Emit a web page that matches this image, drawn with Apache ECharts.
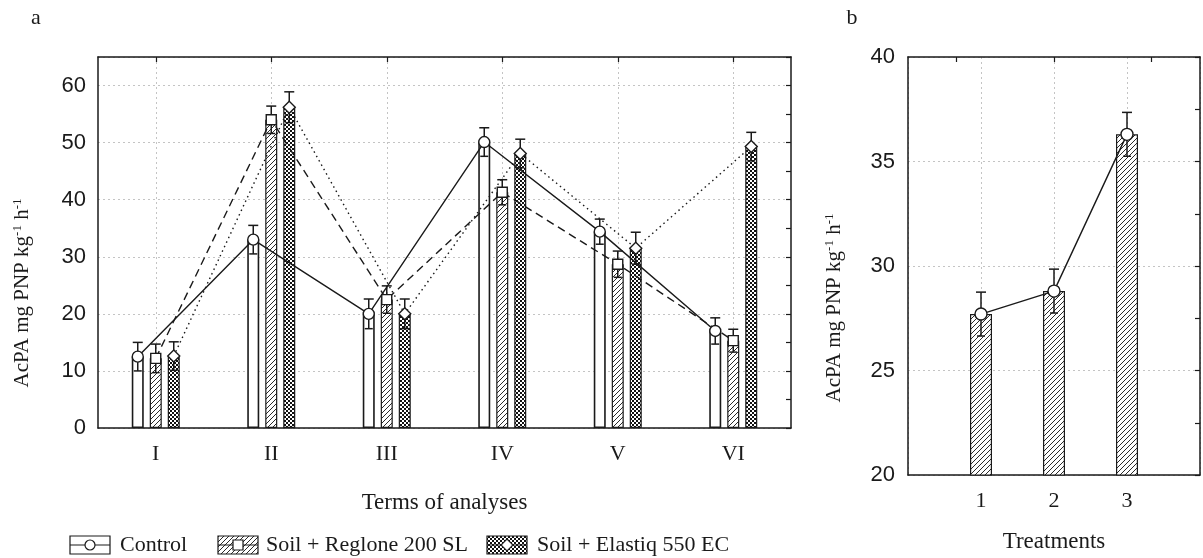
<!DOCTYPE html>
<html>
<head>
<meta charset="utf-8">
<script src="https://cdn.jsdelivr.net/npm/echarts@6.0.0/dist/echarts.min.js"></script>
<style>
  html, body { margin: 0; padding: 0; background: #fff; }
  #chart { width: 1203px; height: 558px; }
</style>
</head>
<body>
<div id="chart"></div>
<script>
// panel a
var terms = ['I', 'II', 'III', 'IV', 'V', 'VI'];
var control = [12.5, 33.0, 20.0, 50.1, 34.4, 17.0];
var controlErr = [2.5, 2.5, 2.6, 2.5, 2.2, 2.3];
var reglone = [12.2, 54.0, 22.5, 41.3, 28.7, 15.3];
var regloneErr = [2.5, 2.4, 2.4, 2.2, 2.3, 2.0];
var elastiq = [12.6, 56.2, 20.0, 48.1, 31.5, 49.3];
var elastiqErr = [2.5, 2.7, 2.6, 2.5, 2.8, 2.5];
var seriesNames = ['Control', 'Soil + Reglone 200 SL', 'Soil + Elastiq 550 EC'];

// panel b
var treatments = ['1', '2', '3'];
var treatMean = [27.7, 28.8, 36.3];
var treatErr = [1.05, 1.05, 1.05];

var serif = 'Liberation Serif';
var sans = 'Liberation Sans';
var ink = '#1a1a1a';
var gridLine = { color: '#c4c4c4', type: [2, 3], width: 1 };

function hatchPattern() {
  var c = document.createElement('canvas');
  c.width = c.height = 5;
  var ctx = c.getContext('2d');
  ctx.fillStyle = '#fff';
  ctx.fillRect(0, 0, 5, 5);
  ctx.strokeStyle = '#2a2a2a';
  ctx.lineWidth = 1;
  ctx.beginPath();
  ctx.moveTo(0, 5); ctx.lineTo(5, 0);
  ctx.moveTo(-1, 1); ctx.lineTo(1, -1);
  ctx.moveTo(4, 6); ctx.lineTo(6, 4);
  ctx.stroke();
  return c;
}
function checkerPattern() {
  var c = document.createElement('canvas');
  c.width = c.height = 4;
  var ctx = c.getContext('2d');
  ctx.fillStyle = '#fff';
  ctx.fillRect(0, 0, 4, 4);
  ctx.fillStyle = '#111';
  ctx.fillRect(0, 0, 2, 2);
  ctx.fillRect(2, 2, 2, 2);
  return c;
}
var hatch = { image: hatchPattern(), repeat: 'repeat' };
var checker = { image: checkerPattern(), repeat: 'repeat' };

var gridA = { left: 98, top: 57, right: 412, bottom: 130 };
var gridB = { left: 908, top: 57, right: 3, bottom: 82 };
var barStep = 18; // centre distance of neighbouring bars in a group
var off = barStep / ((1203 - gridA.left - gridA.right) / terms.length);

function points(vals, shift) {
  return vals.map(function (v, i) { return [i + shift, v]; });
}
function errData(vals, e, shift) {
  return vals.map(function (v, i) { return [i + shift, v - e[i], v + e[i]]; });
}
function errorBar(params, api) {
  var x = api.value(0);
  var lo = api.coord([x, api.value(1)]);
  var hi = api.coord([x, api.value(2)]);
  var cap = 5;
  var st = { stroke: ink, lineWidth: 1.5 };
  return {
    type: 'group',
    children: [
      { type: 'line', shape: { x1: hi[0], y1: hi[1], x2: lo[0], y2: lo[1] }, style: st },
      { type: 'line', shape: { x1: hi[0] - cap, y1: hi[1], x2: hi[0] + cap, y2: hi[1] }, style: st },
      { type: 'line', shape: { x1: lo[0] - cap + 1, y1: lo[1], x2: lo[0] + cap - 1, y2: lo[1] }, style: st }
    ]
  };
}
function errSeries(data, xi, yi) {
  return {
    type: 'custom', xAxisIndex: xi, yAxisIndex: yi, z: 4,
    renderItem: errorBar, data: data, encode: { x: 0, y: [1, 2] }, silent: true
  };
}
function lineSeries(name, data, symbol, size, dash, xi, yi) {
  return {
    name: name, type: 'line', xAxisIndex: xi, yAxisIndex: yi, z: 5,
    data: data, symbol: symbol, symbolSize: size, showAllSymbol: true,
    lineStyle: { color: ink, width: 1.4, type: dash },
    itemStyle: { color: '#fff', borderColor: ink, borderWidth: 1.4 }
  };
}

var barStyles = [
  { color: '#fff', borderColor: ink, borderWidth: 1.6 },
  { color: hatch, borderColor: ink, borderWidth: 1.2 },
  { color: checker, borderColor: ink, borderWidth: 1.2 }
];

var axisLine = { show: true, onZero: false, lineStyle: { color: ink, width: 1.5 } };
var inTick = { show: true, inside: true, length: 5, lineStyle: { color: ink, width: 1.2 } };

var chart = echarts.init(document.getElementById('chart'));

var supText = 'AcPA mg PNP kg{s|-1} h{s|-1}';
var supRich = { s: { fontSize: 13, fontFamily: serif, fill: ink, verticalAlign: 'top' } };

function legendItem(x, textX, pattern, marker, label) {
  var cy = 545;
  return [
    { type: 'rect', shape: { x: x, y: cy - 9, width: 40, height: 18 },
      style: { fill: pattern, stroke: ink, lineWidth: 1.2 } },
    { type: 'line', shape: { x1: x, y1: cy, x2: x + 40, y2: cy }, style: { stroke: ink, lineWidth: 1.2 } },
    marker(x + 20, cy),
    { type: 'text', x: textX, y: cy,
      style: { text: label, fontFamily: serif, fontSize: 22, fill: ink, verticalAlign: 'middle' } }
  ];
}
var mk = { fill: '#fff', stroke: ink, lineWidth: 1.2 };

chart.setOption({
  animation: false,
  grid: [gridA, gridB],
  xAxis: [
    {
      type: 'category', gridIndex: 0, data: terms, position: 'bottom',
      axisLine: axisLine, axisTick: { show: false },
      axisLabel: { fontFamily: serif, fontSize: 22, color: ink, margin: 15 },
      splitLine: { show: true, alignWithLabel: true, lineStyle: gridLine },
      name: 'Terms of analyses', nameLocation: 'middle', nameGap: 63,
      nameTextStyle: { fontFamily: serif, fontSize: 23, color: ink }
    },
    { type: 'value', gridIndex: 0, min: -0.5, max: 5.5, show: false },
    {
      type: 'category', gridIndex: 0, data: terms, position: 'top',
      axisLine: axisLine,
      axisTick: { show: true, inside: true, alignWithLabel: true, length: 5, lineStyle: { color: ink, width: 1.2 } },
      axisLabel: { show: false }, splitLine: { show: false }
    },
    {
      type: 'value', gridIndex: 1, min: 0, max: 4, interval: 1, position: 'bottom',
      axisLine: axisLine, axisTick: { show: false },
      axisLabel: {
        fontFamily: serif, fontSize: 22, color: ink, margin: 15,
        formatter: function (v) { return treatments[v - 1] || ''; }
      },
      splitLine: { show: true, lineStyle: gridLine },
      name: 'Treatments', nameLocation: 'middle', nameGap: 55,
      nameTextStyle: { fontFamily: serif, fontSize: 23, color: ink }
    },
    {
      type: 'category', gridIndex: 1, data: treatments, position: 'top',
      axisLine: axisLine,
      axisTick: { show: true, inside: true, alignWithLabel: true, length: 5, lineStyle: { color: ink, width: 1.2 } },
      axisLabel: { show: false }, splitLine: { show: false }
    }
  ],
  yAxis: [
    {
      type: 'value', gridIndex: 0, min: 0, max: 65, interval: 10,
      axisLine: axisLine, axisTick: { show: false },
      axisLabel: { fontFamily: sans, fontSize: 22, color: ink, margin: 12, showMaxLabel: false },
      splitLine: { show: true, lineStyle: gridLine }
    },
    {
      type: 'value', gridIndex: 0, min: 0, max: 65, interval: 5, position: 'right',
      axisLine: axisLine, axisTick: inTick,
      axisLabel: { show: false }, splitLine: { show: false }
    },
    {
      type: 'value', gridIndex: 1, min: 20, max: 40, interval: 5,
      axisLine: axisLine, axisTick: { show: false },
      axisLabel: { fontFamily: sans, fontSize: 22, color: ink, margin: 13 },
      splitLine: { show: true, lineStyle: gridLine }
    },
    {
      type: 'value', gridIndex: 1, min: 20, max: 40, interval: 2.5, position: 'right',
      axisLine: axisLine, axisTick: inTick,
      axisLabel: { show: false }, splitLine: { show: false }
    }
  ],
  series: [
    { name: seriesNames[0], type: 'bar', xAxisIndex: 0, yAxisIndex: 0, data: control,
      barWidth: 12, barGap: '50%', itemStyle: barStyles[0], z: 2 },
    { name: seriesNames[1], type: 'bar', xAxisIndex: 0, yAxisIndex: 0, data: reglone,
      barWidth: 12, barGap: '50%', itemStyle: barStyles[1], z: 2 },
    { name: seriesNames[2], type: 'bar', xAxisIndex: 0, yAxisIndex: 0, data: elastiq,
      barWidth: 12, barGap: '50%', itemStyle: barStyles[2], z: 2 },
    errSeries(errData(control, controlErr, -off), 1, 0),
    errSeries(errData(reglone, regloneErr, 0), 1, 0),
    errSeries(errData(elastiq, elastiqErr, off), 1, 0),
    lineSeries(seriesNames[0], points(control, -off), 'circle', 11, 'solid', 1, 0),
    lineSeries(seriesNames[1], points(reglone, 0), 'rect', 10, [8, 5], 1, 0),
    lineSeries(seriesNames[2], points(elastiq, off), 'diamond', 12, [1.5, 3.5], 1, 0),

    { type: 'bar', xAxisIndex: 3, yAxisIndex: 2, barWidth: 22, z: 2,
      data: treatMean.map(function (v, i) { return [i + 1, v]; }), itemStyle: barStyles[1] },
    errSeries(errData(treatMean, treatErr, 1), 3, 2),
    lineSeries('Treatments', points(treatMean, 1), 'circle', 12, 'solid', 3, 2)
  ],
  graphic: [
    { type: 'text', x: 36, y: 18, style: { text: 'a', fontFamily: serif, fontSize: 22, fill: ink, align: 'center', verticalAlign: 'middle' } },
    { type: 'text', x: 852, y: 18, style: { text: 'b', fontFamily: serif, fontSize: 22, fill: ink, align: 'center', verticalAlign: 'middle' } },
    { type: 'text', x: 22, y: 293, rotation: Math.PI / 2,
      style: { text: supText, rich: supRich, fontFamily: serif, fontSize: 21, fill: ink, align: 'center', verticalAlign: 'middle' } },
    { type: 'text', x: 834, y: 308, rotation: Math.PI / 2,
      style: { text: supText, rich: supRich, fontFamily: serif, fontSize: 21, fill: ink, align: 'center', verticalAlign: 'middle' } }
  ].concat(
    legendItem(70, 120, '#fff', function (x, y) { return { type: 'circle', shape: { cx: x, cy: y, r: 5 }, style: mk }; }, seriesNames[0]),
    legendItem(218, 266, hatch, function (x, y) { return { type: 'rect', shape: { x: x - 5, y: y - 5, width: 10, height: 10 }, style: mk }; }, seriesNames[1]),
    legendItem(487, 537, checker, function (x, y) { return { type: 'polygon', shape: { points: [[x, y - 6], [x + 6, y], [x, y + 6], [x - 6, y]] }, style: mk }; }, seriesNames[2])
  )
});
</script>
</body>
</html>
